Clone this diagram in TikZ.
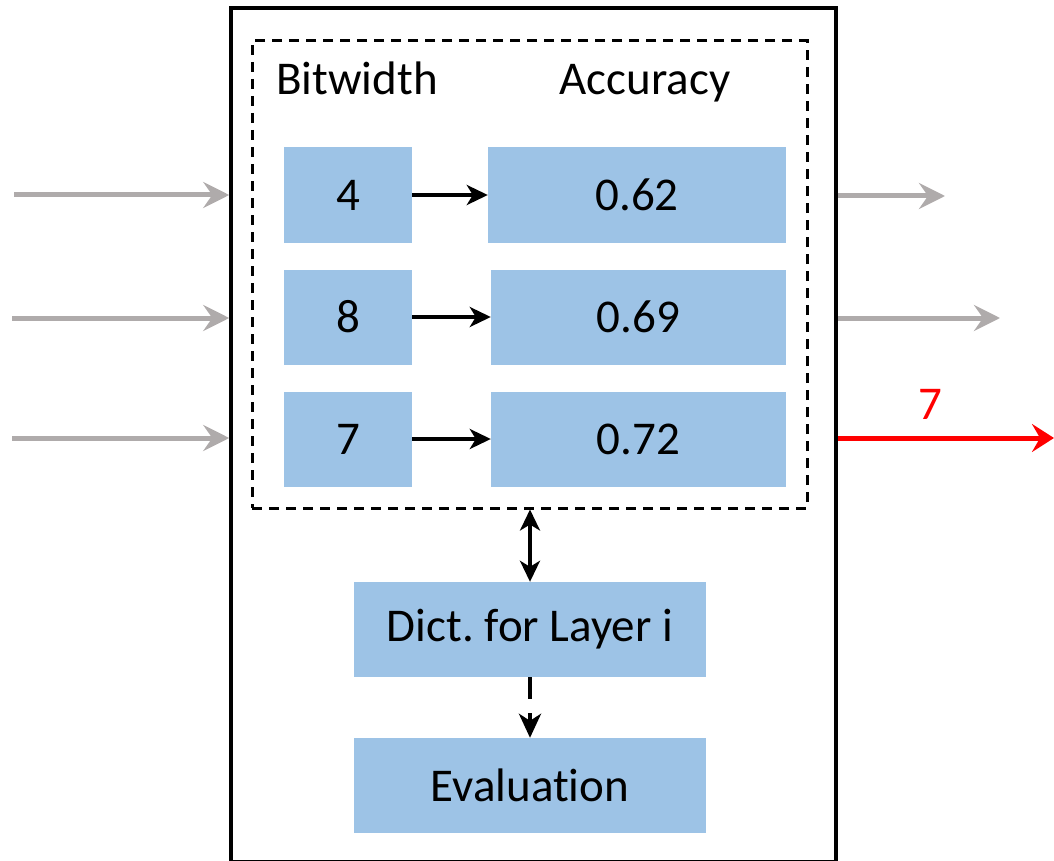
\documentclass[tikz,border=0pt]{standalone}
\usepackage{fontspec}
\setmainfont[Ligatures=NoCommon]{Carlito}
\usetikzlibrary{arrows.meta}
\definecolor{cellblue}{HTML}{9DC3E6}
\definecolor{wiregray}{HTML}{AFABAB}
\begin{document}
\begin{tikzpicture}[x=1pt, y=-1pt,
          big/.style={font=\fontsize{47}{56}\selectfont},
          cell/.style={big, fill=cellblue, minimum height=95pt, inner sep=0pt},
          link/.style={line width=3.5pt, -{Stealth[length=21pt, width=20pt, inset=6pt]}},
          wire/.style={wiregray, line width=5pt, -{Stealth[length=26pt, width=26pt, inset=9pt]}}]
          \useasboundingbox (0,0) rectangle (1054,861);
          \node[draw, line width=3.5pt, minimum width=605pt, minimum height=854pt, inner sep=0pt] (layer) at (533.5,435) {};
          \node[draw, line width=3pt, dash pattern=on 10pt off 7pt, minimum width=555pt, minimum height=467pt, inner sep=0pt] (table) at (529.5,274.5) {};
          \node[big, anchor=base] (bwhead) at (357,95) {Bitwidth};
          \node[big, anchor=base] (acchead) at (645,95) {Accuracy};
          % bitwidth -> accuracy rows
          \foreach \bw/\acc/\y/\ax/\aw in {4/0.62/195/637/298, 8/0.69/317/638.5/295, 7/0.72/439/638.5/295}{
              \node[cell, minimum width=128pt] (bw\bw) at (348,\y) {\bw};
              \node[cell, minimum width=\aw pt] (acc\bw) at (\ax,\y) {\acc};
              \draw[link] (bw\bw.east) -- (acc\bw.west);
          }
          \node[cell, minimum width=352pt] (dict) at (530,629.5) {Dict.\ for Layer i};
          \node[cell, minimum width=352pt] (eval) at (530,785.5) {Evaluation};
          \draw[line width=3.5pt, {Stealth[length=21pt, width=20pt, inset=6pt]}-{Stealth[length=21pt, width=20pt, inset=6pt]}] (dict.north) -- (dict.north |- table.south);
          \draw[line width=4pt, dash pattern=on 22pt off 14pt, -{Stealth[length=24pt, width=22pt, inset=7pt]}] (dict.south) -- (eval.north);
          % incoming and outgoing wires
          \coordinate (in1) at (14,195);
          \coordinate (in2) at (12,318);
          \coordinate (in3) at (12,438);
          \coordinate (out1) at (945,196);
          \coordinate (out2) at (1000,318);
          \coordinate (res) at (1054,438);
          \foreach \i in {1,2,3}{
              \draw[wire] (in\i) -- (in\i -| layer.west);
          }
          \foreach \o in {1,2}{
              \draw[wire] (out\o -| layer.east) -- (out\o);
          }
          \draw[red, line width=5pt, -{Stealth[length=22pt, width=28pt, inset=8pt]}] (res -| layer.east) -- (res);
          \node[big, red] (reslabel) at (930,404) {7};
\end{tikzpicture}
\end{document}
